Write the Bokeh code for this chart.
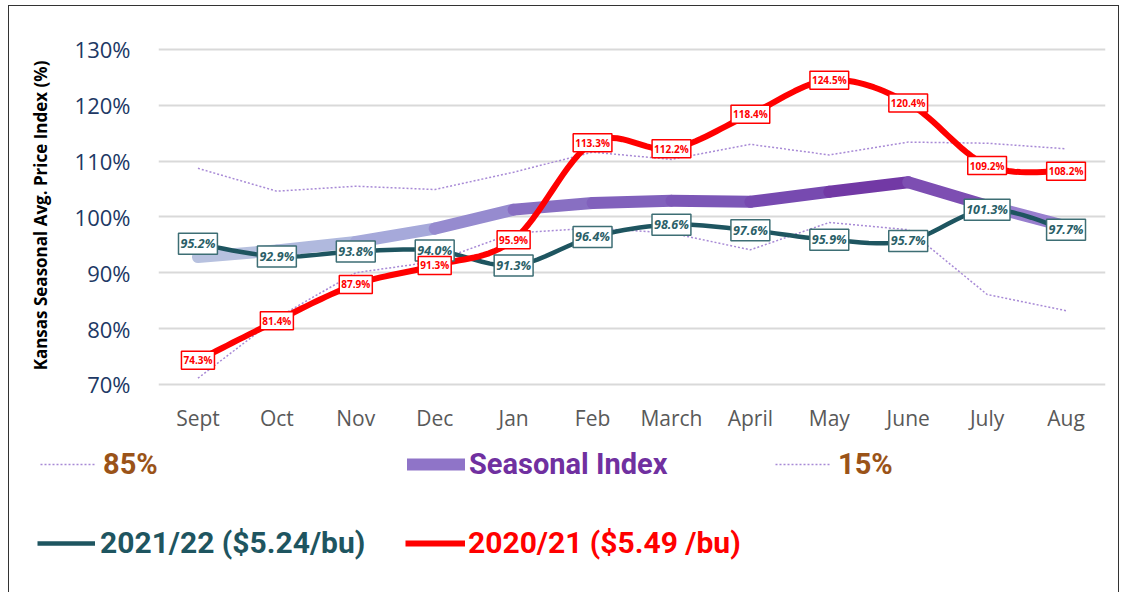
import numpy as np
from bokeh.plotting import figure
from bokeh.layouts import column
from bokeh.models import (Range1d, FixedTicker, ColumnDataSource,
                          Legend, LegendItem)
from bokeh.core.properties import value
from bokeh.embed import file_html
from bokeh.resources import INLINE

# ---------------- data ----------------
months = ["Sept", "Oct", "Nov", "Dec", "Jan", "Feb", "March", "April",
          "May", "June", "July", "Aug"]
y_ticks = [70, 80, 90, 100, 110, 120, 130]
y_tick_labels = ["70%", "80%", "90%", "100%", "110%", "120%", "130%"]

idx_2021_22 = [95.2, 92.9, 93.8, 94.0, 91.3, 96.4, 98.6, 97.6, 95.9, 95.7, 101.3, 97.7]
idx_2020_21 = [74.3, 81.4, 87.9, 91.3, 95.9, 113.3, 112.2, 118.4, 124.5, 120.4, 109.2, 108.2]
seasonal_index = [92.8, 94.0, 95.5, 97.9, 101.3, 102.5, 102.9, 102.7, 104.5, 106.2, 102.0, 98.3]
pct_85 = [108.7, 104.6, 105.5, 104.9, 108.0, 111.6, 110.3, 113.0, 111.1, 113.4, 113.2, 112.2]
pct_15 = [71.1, 81.9, 90.0, 92.0, 97.1, 98.0, 97.1, 94.1, 99.0, 97.7, 86.1, 83.2]

label_2021 = "2021/22 ($5.24/bu)"
label_2020 = "2020/21 ($5.49 /bu)"

# ---------------- styles ----------------
TEAL = "#1e5560"
RED = "#ff0000"
DOT = "#a88ad6"
BROWN = "#9a5318"
PURPLE = "#7030a0"
seasonal_stops = ["#b9c4e0", "#b5bfdf", "#acb3dd", "#a09fd8", "#8d78c6", "#8466be",
                  "#7e5cba", "#7a52b5", "#7443ab", "#7030a0", "#8a6cc4", "#a692d8"]

x = [i + 0.5 for i in range(len(months))]


def smooth(xs, ys, n=16):
    P = np.column_stack([xs, ys]).astype(float)
    P = np.vstack([P[0], P, P[-1]])
    out = []
    t = np.linspace(0, 1, n, endpoint=False)[:, None]
    for i in range(1, len(P) - 2):
        p0, p1, p2, p3 = P[i - 1], P[i], P[i + 1], P[i + 2]
        c = 0.5 * ((2 * p1) + (-p0 + p2) * t + (2 * p0 - 5 * p1 + 4 * p2 - p3) * t ** 2
                   + (-p0 + 3 * p1 - 3 * p2 + p3) * t ** 3)
        out.append(c)
    out.append(P[-2][None, :])
    A = np.vstack(out)
    return A[:, 0], A[:, 1]


def mix(c1, c2):
    a = [int(c1[i:i + 2], 16) for i in (1, 3, 5)]
    b = [int(c2[i:i + 2], 16) for i in (1, 3, 5)]
    return "#%02x%02x%02x" % tuple((u + v) // 2 for u, v in zip(a, b))


W = 1109
p = figure(width=W, height=429, x_range=Range1d(0, 12), y_range=Range1d(68, 132.5),
           output_backend="svg", toolbar_location=None,
           min_border_left=149, min_border_right=13, min_border_top=29, min_border_bottom=40)
p.frame_align = False
p.outline_line_color = None
p.background_fill_color = "white"

p.xgrid.grid_line_color = None
p.ygrid.ticker = FixedTicker(ticks=y_ticks)
p.ygrid.grid_line_color = "#d9d9d9"
p.ygrid.grid_line_width = 2

p.yaxis.ticker = FixedTicker(ticks=y_ticks)
p.yaxis.major_label_overrides = {t: l for t, l in zip(y_ticks, y_tick_labels)}
p.yaxis.axis_line_color = None
p.yaxis.major_tick_line_color = None
p.yaxis.minor_tick_line_color = None
p.yaxis.major_label_text_font = "Open Sans"
p.yaxis.major_label_text_font_size = "22px"
p.yaxis.major_label_text_color = "#203864"
p.yaxis.major_label_standoff = 22
p.yaxis.axis_label = "Kansas Seasonal Avg. Price Index (%)"
p.yaxis.axis_label_text_font = "Open Sans"
p.yaxis.axis_label_text_font_size = "17px"
p.yaxis.axis_label_text_font_style = "bold"
p.yaxis.axis_label_text_color = "black"
p.yaxis.axis_label_standoff = 20

p.xaxis.ticker = FixedTicker(ticks=x)
p.xaxis.major_label_overrides = {xi: m for xi, m in zip(x, months)}
p.xaxis.axis_line_color = None
p.xaxis.major_tick_line_color = None
p.xaxis.minor_tick_line_color = None
p.xaxis.major_label_text_font = "Open Sans"
p.xaxis.major_label_text_font_size = "21px"
p.xaxis.major_label_text_color = "#595959"
p.xaxis.major_label_standoff = 2

# percentile dotted lines
p.line(x, pct_85, line_color=DOT, line_width=1.5, line_dash="2 2")
p.line(x, pct_15, line_color=DOT, line_width=1.5, line_dash="2 2")

# seasonal index (gradient thick line)
seg = ColumnDataSource(dict(
    x0=x[:-1], y0=seasonal_index[:-1], x1=x[1:], y1=seasonal_index[1:],
    c=[mix(seasonal_stops[i], seasonal_stops[i + 1]) for i in range(len(x) - 1)]))
p.segment("x0", "y0", "x1", "y1", source=seg, line_color="c", line_width=12,
          line_cap="round")

# 2021/22
sx, sy = smooth(x, idx_2021_22, 10)
p.line(sx, sy, line_color=TEAL, line_width=4.5, line_join="round")
# 2020/21
rx, ry = smooth(x, idx_2020_21, 16)
p.line(rx, ry, line_color=RED, line_width=6, line_join="round")

src21 = ColumnDataSource(dict(x=x, y=idx_2021_22, t=[f"{v:.1f}%" for v in idx_2021_22]))
src20 = ColumnDataSource(dict(x=x, y=idx_2020_21, t=[f"{v:.1f}%" for v in idx_2020_21]))

p.text(x="x", y="y", text="t", source=src21, text_align="center",
       text_baseline="middle", text_font=value("Open Sans"),
       text_font_size="12.5px", text_font_style="bold italic",
       text_color="#2b5f68", background_fill_color="white",
       border_line_color="#3d6e74", border_line_width=1.5, padding=2)
p.text(x="x", y="y", text="t", source=src20, text_align="center",
       text_baseline="middle", text_font=value("Open Sans"),
       text_font_size="10px", text_font_style="bold",
       text_color=RED, background_fill_color="white",
       border_line_color=RED, border_line_width=1.5, padding=2)

# ---------------- legend panel ----------------
LH = 162
q = figure(width=W, height=LH, x_range=Range1d(0, W), y_range=Range1d(0, LH),
           output_backend="svg", toolbar_location=None,
           min_border=0, x_axis_type=None, y_axis_type=None)
q.frame_align = False
q.outline_line_color = None
q.xgrid.grid_line_color = None
q.ygrid.grid_line_color = None

g85 = q.line(x, pct_85, line_color=DOT, line_width=1.5, line_dash="2 2", visible=False)
gseas = q.line(x, seasonal_index, line_color="#8f74c8", line_width=12, line_cap="round",
               visible=False)
g15 = q.line(x, pct_15, line_color=DOT, line_width=1.5, line_dash="2 2", visible=False)
g21 = q.line(x, idx_2021_22, line_color=TEAL, line_width=4.5, visible=False)
g20 = q.line(x, idx_2020_21, line_color=RED, line_width=6, visible=False)


def add_leg(renderer, label, color, loc, gw, standoff, size="29px"):
    item = LegendItem(label=label, renderers=[renderer])
    lg = Legend(items=[item], location=loc, orientation="horizontal",
                glyph_width=gw, glyph_height=34, label_standoff=standoff,
                padding=0, margin=0, border_line_color=None, background_fill_alpha=0,
                inactive_fill_alpha=0, click_policy="none",
                label_text_color=color, label_text_font_size=size,
                label_text_font_style="bold", label_text_font="Roboto",
                label_height=34, label_text_baseline="middle")
    q.add_layout(lg)


add_leg(g85, "85%", BROWN, (31, 116), 55, 8)
add_leg(gseas, "Seasonal Index", PURPLE, (398, 116), 58, 4)
add_leg(g15, "15%", BROWN, (766, 116), 55, 8)
add_leg(g21, label_2021, TEAL, (28, 37), 58, 5, "30px")
add_leg(g20, label_2020, RED, (396, 37), 60, 3, "30px")

layout = column(p, q, spacing=0, margin=(5, 0, 0, 8),
                styles={"border": "1px solid #333333"})

open("out.html", "w").write(file_html(layout, INLINE))
